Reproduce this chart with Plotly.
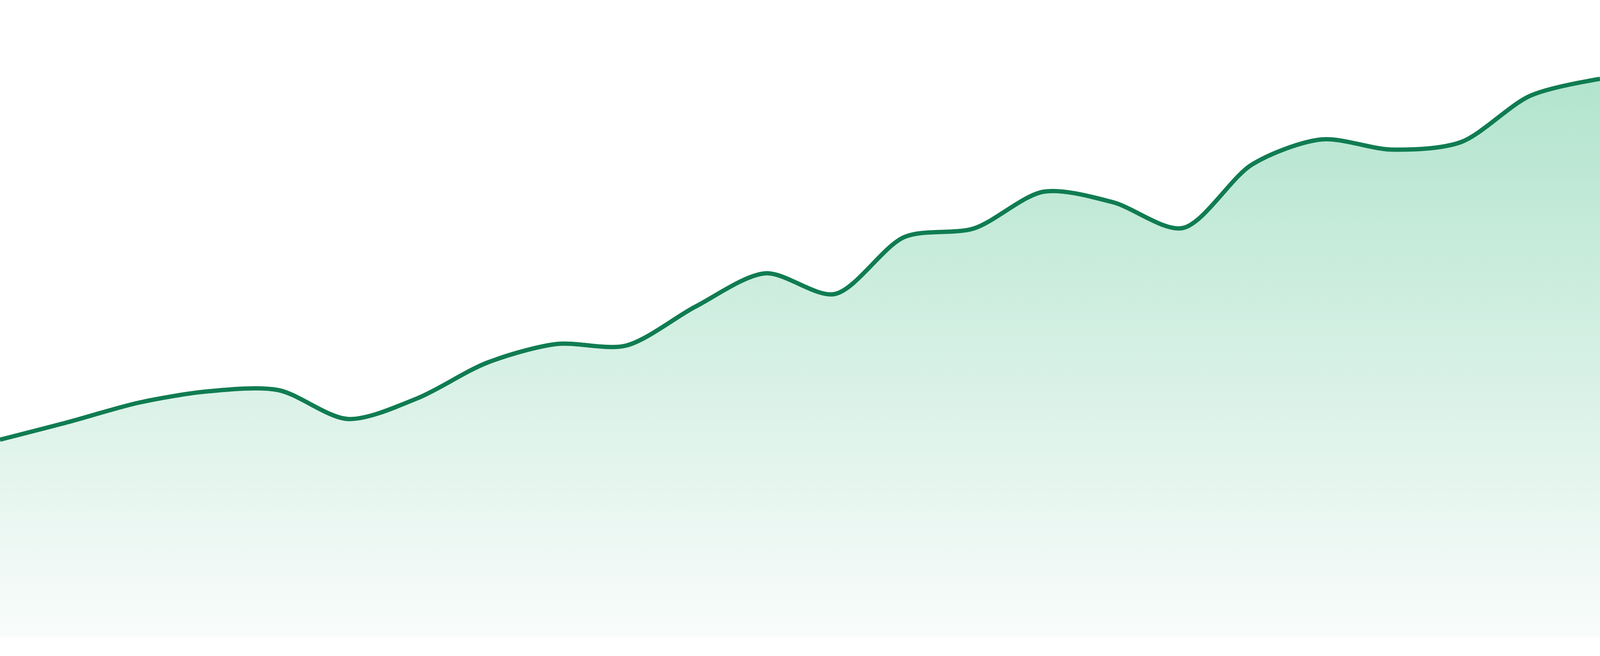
import plotly.graph_objects as go

# daily readings (arbitrary units)
days = list(range(24))
values = [50.6, 55.2, 60.1, 63.0, 63.3, 55.9, 61.2, 70.3, 75.1, 74.7,
          84.7, 93.2, 87.9, 102.5, 104.7, 114.1, 111.4, 104.8, 121.1,
          127.5, 124.9, 126.8, 138.7, 143.0]

line_color = '#107C52'

fig = go.Figure()
fig.add_trace(go.Scatter(
    x=days, y=values,
    mode='lines',
    line=dict(color=line_color, width=11, shape='spline', smoothing=0.85),
    fill='tozeroy',
    fillgradient=dict(type='vertical',
                      colorscale=[[0, 'rgb(249,252,251)'], [1, 'rgb(178,228,206)']],
                      start=0, stop=max(values)),
    hoverinfo='skip',
    showlegend=False,
))

fig.update_layout(
    autosize=True,
    margin=dict(l=0, r=0, t=0, b=0),
    paper_bgcolor='white', plot_bgcolor='white',
    xaxis=dict(visible=False, range=[0, 23], fixedrange=True),
    yaxis=dict(visible=False, range=[0, 163.2], domain=[48 / 1680, 1], fixedrange=True),
)

# let the chart fill the whole window, no page margin
fit_js = ("document.body.style.margin='0';"
          "document.body.style.overflow='hidden';"
          "Plotly.Plots.resize(document.getElementById('{plot_id}'));")

fig.write_html('out.html', default_width='100vw', default_height='100vh',
               config={'displayModeBar': False}, post_script=fit_js)
